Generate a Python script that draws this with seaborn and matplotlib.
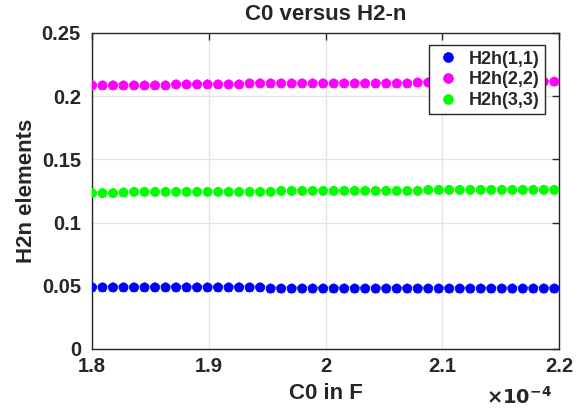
import matplotlib
matplotlib.use("Agg")
import matplotlib.pyplot as plt
import seaborn as sns
import pandas as pd

# Capacitance sweep (in units of 1e-4 F)
c0 = [1.800, 1.809, 1.818, 1.827, 1.836, 1.845, 1.854, 1.863, 1.872, 1.881,
      1.890, 1.899, 1.908, 1.917, 1.926, 1.935, 1.944, 1.953, 1.962, 1.971,
      1.980, 1.989, 1.998, 2.007, 2.016, 2.025, 2.034, 2.043, 2.052, 2.061,
      2.070, 2.079, 2.088, 2.097, 2.106, 2.115, 2.124, 2.133, 2.142, 2.151,
      2.160, 2.169, 2.178, 2.187, 2.196]

h11 = [0.0487, 0.0487, 0.0487, 0.0487, 0.0487, 0.0487, 0.0487, 0.0487, 0.0487, 0.0487,
       0.0487, 0.0487, 0.0487, 0.0487, 0.0487, 0.0487, 0.0487, 0.0478, 0.0478, 0.0478,
       0.0478, 0.0478, 0.0478, 0.0478, 0.0478, 0.0478, 0.0478, 0.0478, 0.0478, 0.0478,
       0.0478, 0.0478, 0.0478, 0.0478, 0.0478, 0.0478, 0.0478, 0.0478, 0.0478, 0.0478,
       0.0478, 0.0478, 0.0478, 0.0478, 0.0478]

h22 = [0.2085, 0.2085, 0.2085, 0.2085, 0.2085, 0.2085, 0.2085, 0.2085, 0.2093, 0.2093,
       0.2093, 0.2093, 0.2093, 0.2093, 0.2093, 0.2101, 0.2101, 0.2101, 0.2101, 0.2101,
       0.2101, 0.2101, 0.2101, 0.2101, 0.2101, 0.2101, 0.2101, 0.2101, 0.2101, 0.2101,
       0.2101, 0.2108, 0.2108, 0.2108, 0.2108, 0.2108, 0.2108, 0.2108, 0.2115, 0.2115,
       0.2115, 0.2115, 0.2115, 0.2115, 0.2115]

h33 = [0.1233, 0.1233, 0.1233, 0.1238, 0.1243, 0.1243, 0.1243, 0.1243, 0.1243, 0.1243,
       0.1243, 0.1243, 0.1243, 0.1243, 0.1243, 0.1243, 0.1243, 0.1243, 0.1251, 0.1251,
       0.1251, 0.1251, 0.1251, 0.1251, 0.1251, 0.1251, 0.1251, 0.1251, 0.1251, 0.1251,
       0.1251, 0.1251, 0.1259, 0.1259, 0.1259, 0.1259, 0.1259, 0.1259, 0.1259, 0.1259,
       0.1259, 0.1259, 0.1259, 0.1259, 0.1259]

series_names = ["H2h(1,1)", "H2h(2,2)", "H2h(3,3)"]
series_colors = ["#0000ff", "#ff00ff", "#00ff00"]
x_ticks = [1.8, 1.9, 2.0, 2.1, 2.2]
x_tick_labels = ["1.8", "1.9", "2", "2.1", "2.2"]
y_ticks = [0, 0.05, 0.10, 0.15, 0.20, 0.25]
y_tick_labels = ["0", "0.05", "0.1", "0.15", "0.2", "0.25"]

df = pd.concat([
    pd.DataFrame({"C0": c0, "value": vals, "element": name})
    for name, vals in zip(series_names, [h11, h22, h33])
], ignore_index=True)

sns.set_style("white")
plt.rcParams["font.family"] = ["Liberation Sans", "DejaVu Sans"]
plt.rcParams["font.weight"] = "bold"
dark = "#262626"

fig = plt.figure(figsize=(5.85, 4.12), dpi=100)
ax = fig.add_axes([92 / 585, 1 - 349 / 412, 467 / 585, 316 / 412])

palette = dict(zip(series_names, series_colors))
# filled circles
sns.scatterplot(data=df, x="C0", y="value", hue="element", palette=palette,
                hue_order=series_names, marker="o", s=42, edgecolor="face",
                linewidth=0.6, ax=ax, zorder=3, legend=True)
# small star overlay giving each marker its spiky outline
sns.scatterplot(data=df, x="C0", y="value", hue="element", palette=palette,
                hue_order=series_names, marker="*", s=55, edgecolor="face",
                linewidth=0.3, ax=ax, zorder=3, legend=False)

ax.set_xlim(1.8, 2.2)
ax.set_ylim(0, 0.25)
ax.set_xticks(x_ticks)
ax.set_xticklabels(x_tick_labels)
ax.set_yticks(y_ticks)
ax.set_yticklabels(y_tick_labels)

ax.grid(True, color="#e3e3e3", linewidth=0.9)
ax.set_axisbelow(True)
for side in ["left", "right", "top", "bottom"]:
    ax.spines[side].set_visible(True)
    ax.spines[side].set_color(dark)
    ax.spines[side].set_linewidth(1.0)

ax.tick_params(axis="both", which="major", direction="in", length=5,
               width=1.0, color=dark, labelsize=14.5,
               labelcolor=dark, top=True, right=True)
ax.tick_params(axis="x", pad=6)
ax.tick_params(axis="y", pad=8)
for lbl in ax.get_xticklabels() + ax.get_yticklabels():
    lbl.set_fontweight("bold")

ax.set_title("C0 versus H2-n", fontsize=16, fontweight="bold", pad=9)
ax.set_xlabel("C0 in F", fontsize=16, fontweight="bold", labelpad=5, color=dark)
ax.set_ylabel("H2n elements", fontsize=16, fontweight="bold", labelpad=3, color=dark)

fig.text(552 / 585, 4 / 412, r"$\times\mathbf{10^{-4}}$",
         ha="right", va="bottom", fontsize=14, color=dark)

handles, labels = ax.get_legend_handles_labels()
leg = ax.legend(handles[:3], labels[:3], loc="upper right",
                bbox_to_anchor=(0.99, 0.99), frameon=True, fancybox=False,
                edgecolor=dark, framealpha=1,
                prop={"weight": "bold", "size": 13}, handletextpad=0.4,
                borderpad=0.3, labelspacing=0.2, handlelength=1.5,
                markerscale=1.0)
leg.get_frame().set_linewidth(1.0)
for h in leg.legend_handles:
    h.set_markeredgecolor(h.get_markerfacecolor())
    h.set_markersize(7)

fig.savefig("out.png", dpi=100)
